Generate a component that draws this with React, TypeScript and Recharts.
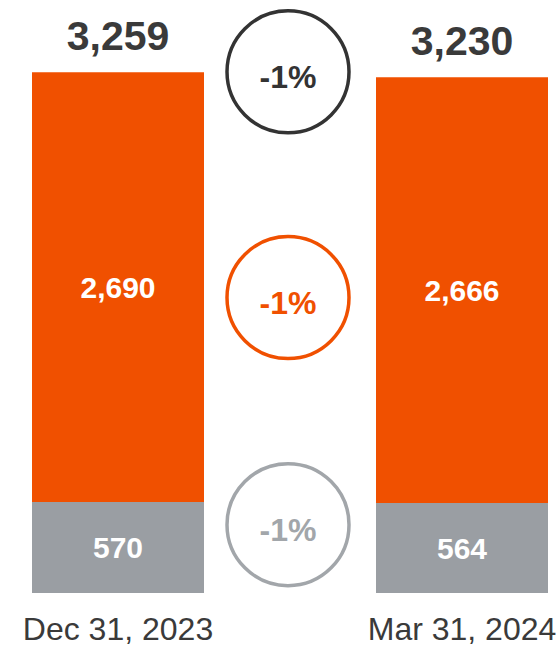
import React from "react";
import { BarChart, Bar, XAxis, YAxis, LabelList, ReferenceDot } from "recharts";

// reporting dates, plus an empty slot in the middle where the change badges sit
const periods = ["Dec 31, 2023", "Mar 31, 2024"];
const grayValues = [570, 564];
const orangeValues = [2690, 2666];
const totals = [3259, 3230];
const changeLabels = { total: "-1%", orange: "-1%", gray: "-1%" };

const GAP = "gap";

const ORANGE = "#F05000";
const GRAY = "#9A9EA3";
const DARK = "#3A3A3A";
const FONT = "'Liberation Sans', Arial, sans-serif";

const rows = [
  { period: periods[0], gray: grayValues[0], orange: orangeValues[0], total: totals[0] },
  { period: GAP, gray: null, orange: null, total: null },
  { period: periods[1], gray: grayValues[1], orange: orangeValues[1], total: totals[1] },
];

const mean = (a: number[]) => a.reduce((s, v) => s + v, 0) / a.length;

// badge anchors derived from the data: total level, middle of orange, middle of gray
const badges = [
  { key: "total", y: mean(totals), text: changeLabels.total, color: "#333333", dy: -3 },
  {
    key: "orange",
    y: mean(grayValues.map((g, i) => g + orangeValues[i] / 2)),
    text: changeLabels.orange,
    color: ORANGE,
    dy: 9,
  },
  { key: "gray", y: mean(grayValues.map((g) => g / 2)), text: changeLabels.gray, color: "#A2A6AA", dy: -23 },
];

const fmt = (v: unknown) => (v == null ? "" : Number(v).toLocaleString("en-US"));

const DateTick = (props: any) => {
  const { x, y, payload } = props;
  if (payload.value === GAP) return null;
  return (
    <text x={x} y={y} dy={47} textAnchor="middle" fontSize={32} fill={DARK}>
      {payload.value}
    </text>
  );
};

const badgeShape = (b: (typeof badges)[number]) => (p: any) => {
  const cx = p.cx - 2;
  const cy = p.cy + b.dy;
  return (
    <g>
      <circle cx={cx} cy={cy} r={61} fill="#fff" stroke={b.color} strokeWidth={3.5} />
      <text
        x={cx}
        y={cy}
        dy="0.5em"
        textAnchor="middle"
        fontSize={32}
        fontWeight="bold"
        fill={b.color}
      >
        {b.text}
      </text>
    </g>
  );
};

export default function App() {
  return (
    <div style={{ position: "absolute", left: 0, top: 0, width: 559, height: 646, background: "#fff", fontFamily: FONT }}>
      <BarChart
        width={559}
        height={646}
        data={rows}
        margin={{ top: 50, right: 11, bottom: 0, left: 32 }}
        barCategoryGap={0}
      >
        <XAxis
          dataKey="period"
          axisLine={false}
          tickLine={false}
          tickSize={0}
          tickMargin={0}
          height={53}
          interval={0}
          tick={<DateTick />}
        />
        <YAxis hide domain={[0, 3400]} tickCount={5} />
        <Bar dataKey="gray" stackId="a" fill={GRAY} isAnimationActive={false}>
          <LabelList
            dataKey="gray"
            position="center"
            formatter={fmt}
            fill="#fff"
            fontSize={30}
            fontWeight="bold"
          />
        </Bar>
        <Bar dataKey="orange" stackId="a" fill={ORANGE} isAnimationActive={false}>
          <LabelList
            dataKey="orange"
            position="center"
            formatter={fmt}
            fill="#fff"
            fontSize={30}
            fontWeight="bold"
          />
          <LabelList
            dataKey="total"
            position="top"
            offset={22}
            formatter={fmt}
            fill={DARK}
            fontSize={41}
            fontWeight="bold"
          />
        </Bar>
        {badges.map((b) => (
          <ReferenceDot key={b.key} x={GAP} y={b.y} r={61} shape={badgeShape(b)} />
        ))}
      </BarChart>
    </div>
  );
}
